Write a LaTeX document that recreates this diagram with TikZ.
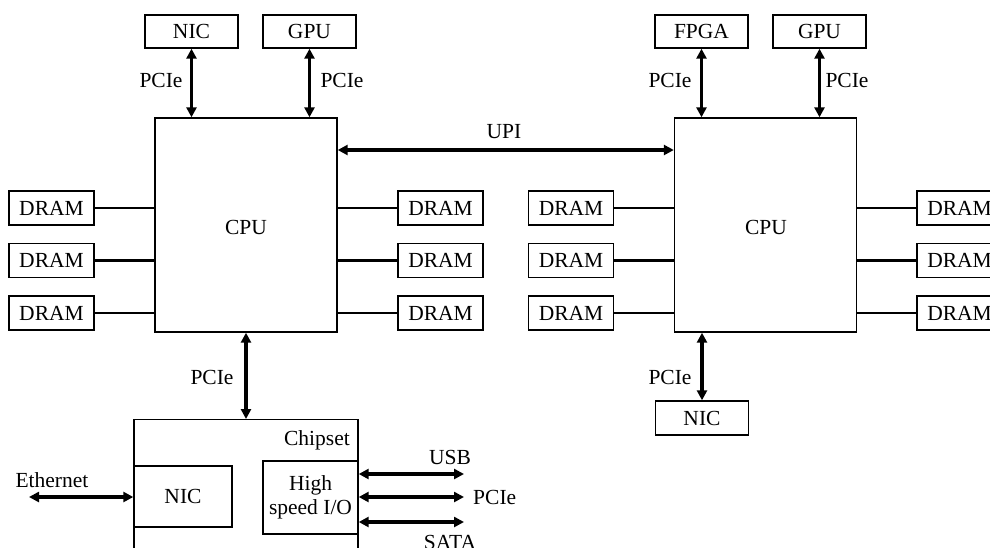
\documentclass[tikz,border=0pt]{standalone}
\usepackage{fontspec}
\setmainfont{Liberation Serif}
\usetikzlibrary{arrows.meta,calc}
\begin{document}
\begin{tikzpicture}[x=1pt,y=-1pt,
  every node/.style={font=\fontsize{21.5}{24}\selectfont, inner sep=0pt},
  box/.style={draw, line width=1.4pt, rectangle},
  smallbox/.style={box, minimum width=93pt, minimum height=33pt},
  drambox/.style={box, minimum width=85pt, minimum height=34pt},
  cpubox/.style={box, minimum width=182pt, minimum height=214pt},
  bi/.style={line width=3.6pt, {Triangle[length=10pt,width=10pt]}-{Triangle[length=10pt,width=10pt]}},
  memline/.style={line width=2.4pt}
]
\useasboundingbox (0,0) rectangle (990,547);
\clip (0,0) rectangle (990,547);
\fill[white] (0,0) rectangle (990,547);

% CPUs
\node[cpubox] (cpuL) at (246,225) {};
\node at (246,227) (cpuLt) {CPU};
\node[cpubox] (cpuR) at (765.5,225) {};
\node at (766,227) (cpuRt) {CPU};

% top devices
\node[smallbox] (nicT) at (191.5,31.5) {NIC};
\node[smallbox] (gpuL) at (309.5,31.5) {GPU};
\node[smallbox] (fpga) at (701.5,31.5) {FPGA};
\node[smallbox] (gpuR) at (819.5,31.5) {GPU};

\draw[bi] (nicT.south) -- (nicT.south |- cpuL.north);
\draw[bi] (gpuL.south) -- (gpuL.south |- cpuL.north);
\draw[bi] (fpga.south) -- (fpga.south |- cpuR.north);
\draw[bi] (gpuR.south) -- (gpuR.south |- cpuR.north);
\node (p1) at (161,80) {PCIe};
\node (p2) at (342,80) {PCIe};
\node (p3) at (670,80) {PCIe};
\node (p4) at (847,80) {PCIe};

% UPI
\coordinate (upi) at (505,150);
\draw[bi] (cpuL.east |- upi) -- (cpuR.west |- upi);
\node (upit) at (504,132) {UPI};

% DRAMs
\foreach \y [count=\i] in {208,260.5,313}{
  \node[drambox] (dLL\i) at (51.5,\y) {DRAM};
  \node[drambox] (dLR\i) at (440.5,\y) {DRAM};
  \node[drambox] (dRL\i) at (571,\y) {DRAM};
  \node[drambox] (dRR\i) at (959.5,\y) {DRAM};
  \draw[memline] (dLL\i.east) -- (dLL\i.east -| cpuL.west);
  \draw[memline] (dLR\i.west) -- (dLR\i.west -| cpuL.east);
  \draw[memline] (dRL\i.east) -- (dRL\i.east -| cpuR.west);
  \draw[memline] (dRR\i.west) -- (dRR\i.west -| cpuR.east);
}

% bottom right NIC
\node[smallbox, minimum height=34pt] (nicB) at (702,418) {NIC};
\draw[bi] (nicB.north) -- (nicB.north |- cpuR.south);
\node (p5) at (670,377) {PCIe};

% chipset
\node[box, minimum width=224pt, minimum height=200pt, anchor=north] (chip) at (246,419) {};
\node[anchor=east] (chipt) at (350,440) {Chipset};
\draw[bi] (cpuL.south) -- (chip.north);
\node (p6) at (212,377) {PCIe};

\node[box, minimum width=98pt, minimum height=61pt] (nicI) at (183,496.5) {NIC};
\node[box, minimum width=95pt, minimum height=73pt, align=center] (hsio) at (310.5,497.5) {High\\speed I/O};

\coordinate (eth) at (29,497);
\draw[bi] (eth) -- (eth -| nicI.west);
\node (etht) at (52,480) {Ethernet};

\coordinate (usb) at (464,474);
\coordinate (pcie) at (464,497);
\coordinate (sata) at (464,522);
\draw[bi] (usb -| hsio.east) -- (usb);
\draw[bi] (pcie -| hsio.east) -- (pcie);
\draw[bi] (sata -| hsio.east) -- (sata);
\node (usbt) at (450,457) {USB};
\node[anchor=west] (pciet) at (473,497) {PCIe};
\node (satat) at (450,542) {SATA};
\end{tikzpicture}
\end{document}
